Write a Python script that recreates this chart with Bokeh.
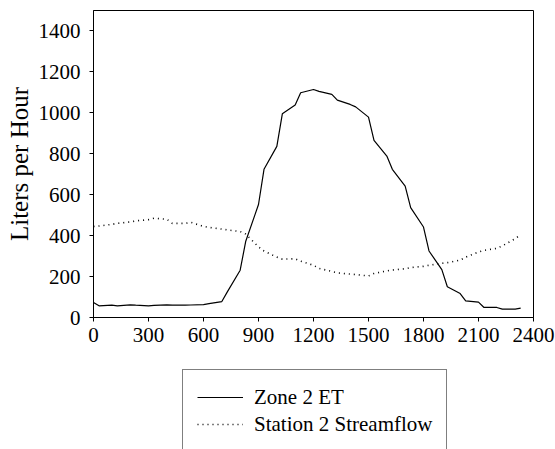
from bokeh.plotting import figure
from bokeh.layouts import column
from bokeh.models import Range1d, Legend, LegendItem, FixedTicker
from bokeh.embed import file_html
from bokeh.resources import INLINE

times = [0, 30, 100, 130, 200, 230, 300, 330, 400, 430, 500, 530,
         600, 630, 700, 730, 800, 830, 900, 930, 1000, 1030, 1100, 1130,
         1200, 1230, 1300, 1330, 1400, 1430, 1500, 1530, 1600, 1630, 1700, 1730,
         1800, 1830, 1900, 1930, 2000, 2030, 2100, 2130, 2200, 2230, 2300, 2330]

zone2_et = [73, 57, 60, 57, 62, 60, 57, 59, 62, 60, 60, 61,
            63, 68, 78, 125, 231, 371, 552, 724, 836, 995, 1038, 1098,
            1114, 1105, 1090, 1062, 1041, 1029, 979, 865, 789, 724, 642, 537,
            442, 325, 234, 150, 117, 81, 75, 49, 49, 41, 41, 46]

station2_flow = [445, 447, 455, 460, 467, 472, 478, 485, 480, 460, 460, 465,
                 445, 440, 432, 428, 420, 408, 345, 325, 295, 285, 287, 275,
                 255, 240, 225, 218, 212, 210, 203, 215, 228, 232, 238, 244,
                 250, 255, 265, 268, 280, 295, 320, 328, 338, 350, 385, 405]

series_names = ["Zone 2 ET", "Station 2 Streamflow"]
x_ticks = [0, 300, 600, 900, 1200, 1500, 1800, 2100, 2400]
y_ticks = [0, 200, 400, 600, 800, 1000, 1200, 1400]

FONT = "Liberation Serif"
ET_STYLE = dict(line_color="black", line_width=1.2)
FLOW_STYLE = dict(line_color="black", line_width=1.6, line_dash="1 4")

p = figure(width=555, height=355, output_backend="svg", toolbar_location=None,
           x_range=Range1d(0, 2400), y_range=Range1d(0, 1500),
           min_border_left=93, min_border_right=22, min_border_top=10,
           min_border_bottom=38)
p.background_fill_color = "white"
p.border_fill_color = "white"
p.outline_line_color = "black"
p.outline_line_width = 1
p.grid.visible = False

p.line(times, zone2_et, **ET_STYLE)
p.line(times, station2_flow, **FLOW_STYLE)

for ax in (p.xaxis[0], p.yaxis[0]):
    ax.major_label_text_font = FONT
    ax.major_label_text_font_size = "21px"
    ax.major_label_text_color = "black"
    ax.axis_line_color = "black"
    ax.major_tick_line_color = "black"
    ax.major_tick_in = 0
    ax.major_tick_out = 4
    ax.minor_tick_line_color = None

p.xaxis[0].ticker = FixedTicker(ticks=x_ticks)
p.yaxis[0].ticker = FixedTicker(ticks=y_ticks)
p.xaxis[0].major_label_standoff = 6
p.yaxis[0].major_label_standoff = 9

p.yaxis[0].axis_label = "Liters per Hour"
p.yaxis[0].axis_label_text_font = FONT
p.yaxis[0].axis_label_text_font_style = "normal"
p.yaxis[0].axis_label_text_font_size = "25px"
p.yaxis[0].axis_label_text_color = "black"
p.yaxis[0].axis_label_standoff = 3

# legend panel below the chart (its lines sit outside the visible range)
p2 = figure(width=555, height=94, output_backend="svg", toolbar_location=None,
            x_range=Range1d(0, 2400), y_range=Range1d(-20000, -10000),
            x_axis_type=None, y_axis_type=None,
            min_border_left=0, min_border_right=0, min_border_top=0,
            min_border_bottom=0)
p2.outline_line_color = None
p2.grid.visible = False
p2.background_fill_color = "white"
p2.border_fill_color = "white"
l1 = p2.line(times, zone2_et, **ET_STYLE)
l2 = p2.line(times, station2_flow, **FLOW_STYLE)

legend = Legend(items=[LegendItem(label=series_names[0], renderers=[l1]),
                       LegendItem(label=series_names[1], renderers=[l2])],
                location=(89, -3), orientation="vertical")
legend.label_text_font = FONT
legend.label_text_font_size = "21px"
legend.label_text_color = "black"
legend.label_height = 26
legend.glyph_height = 26
legend.glyph_width = 46
legend.label_standoff = 11
legend.spacing = 1
legend.padding = 14
legend.margin = 0
legend.border_line_color = "black"
legend.border_line_width = 1
legend.background_fill_color = "white"
legend.background_fill_alpha = 1
p2.add_layout(legend, "center")

layout = column(p, p2, spacing=0)
open("out.html", "w").write(file_html(layout, INLINE))
